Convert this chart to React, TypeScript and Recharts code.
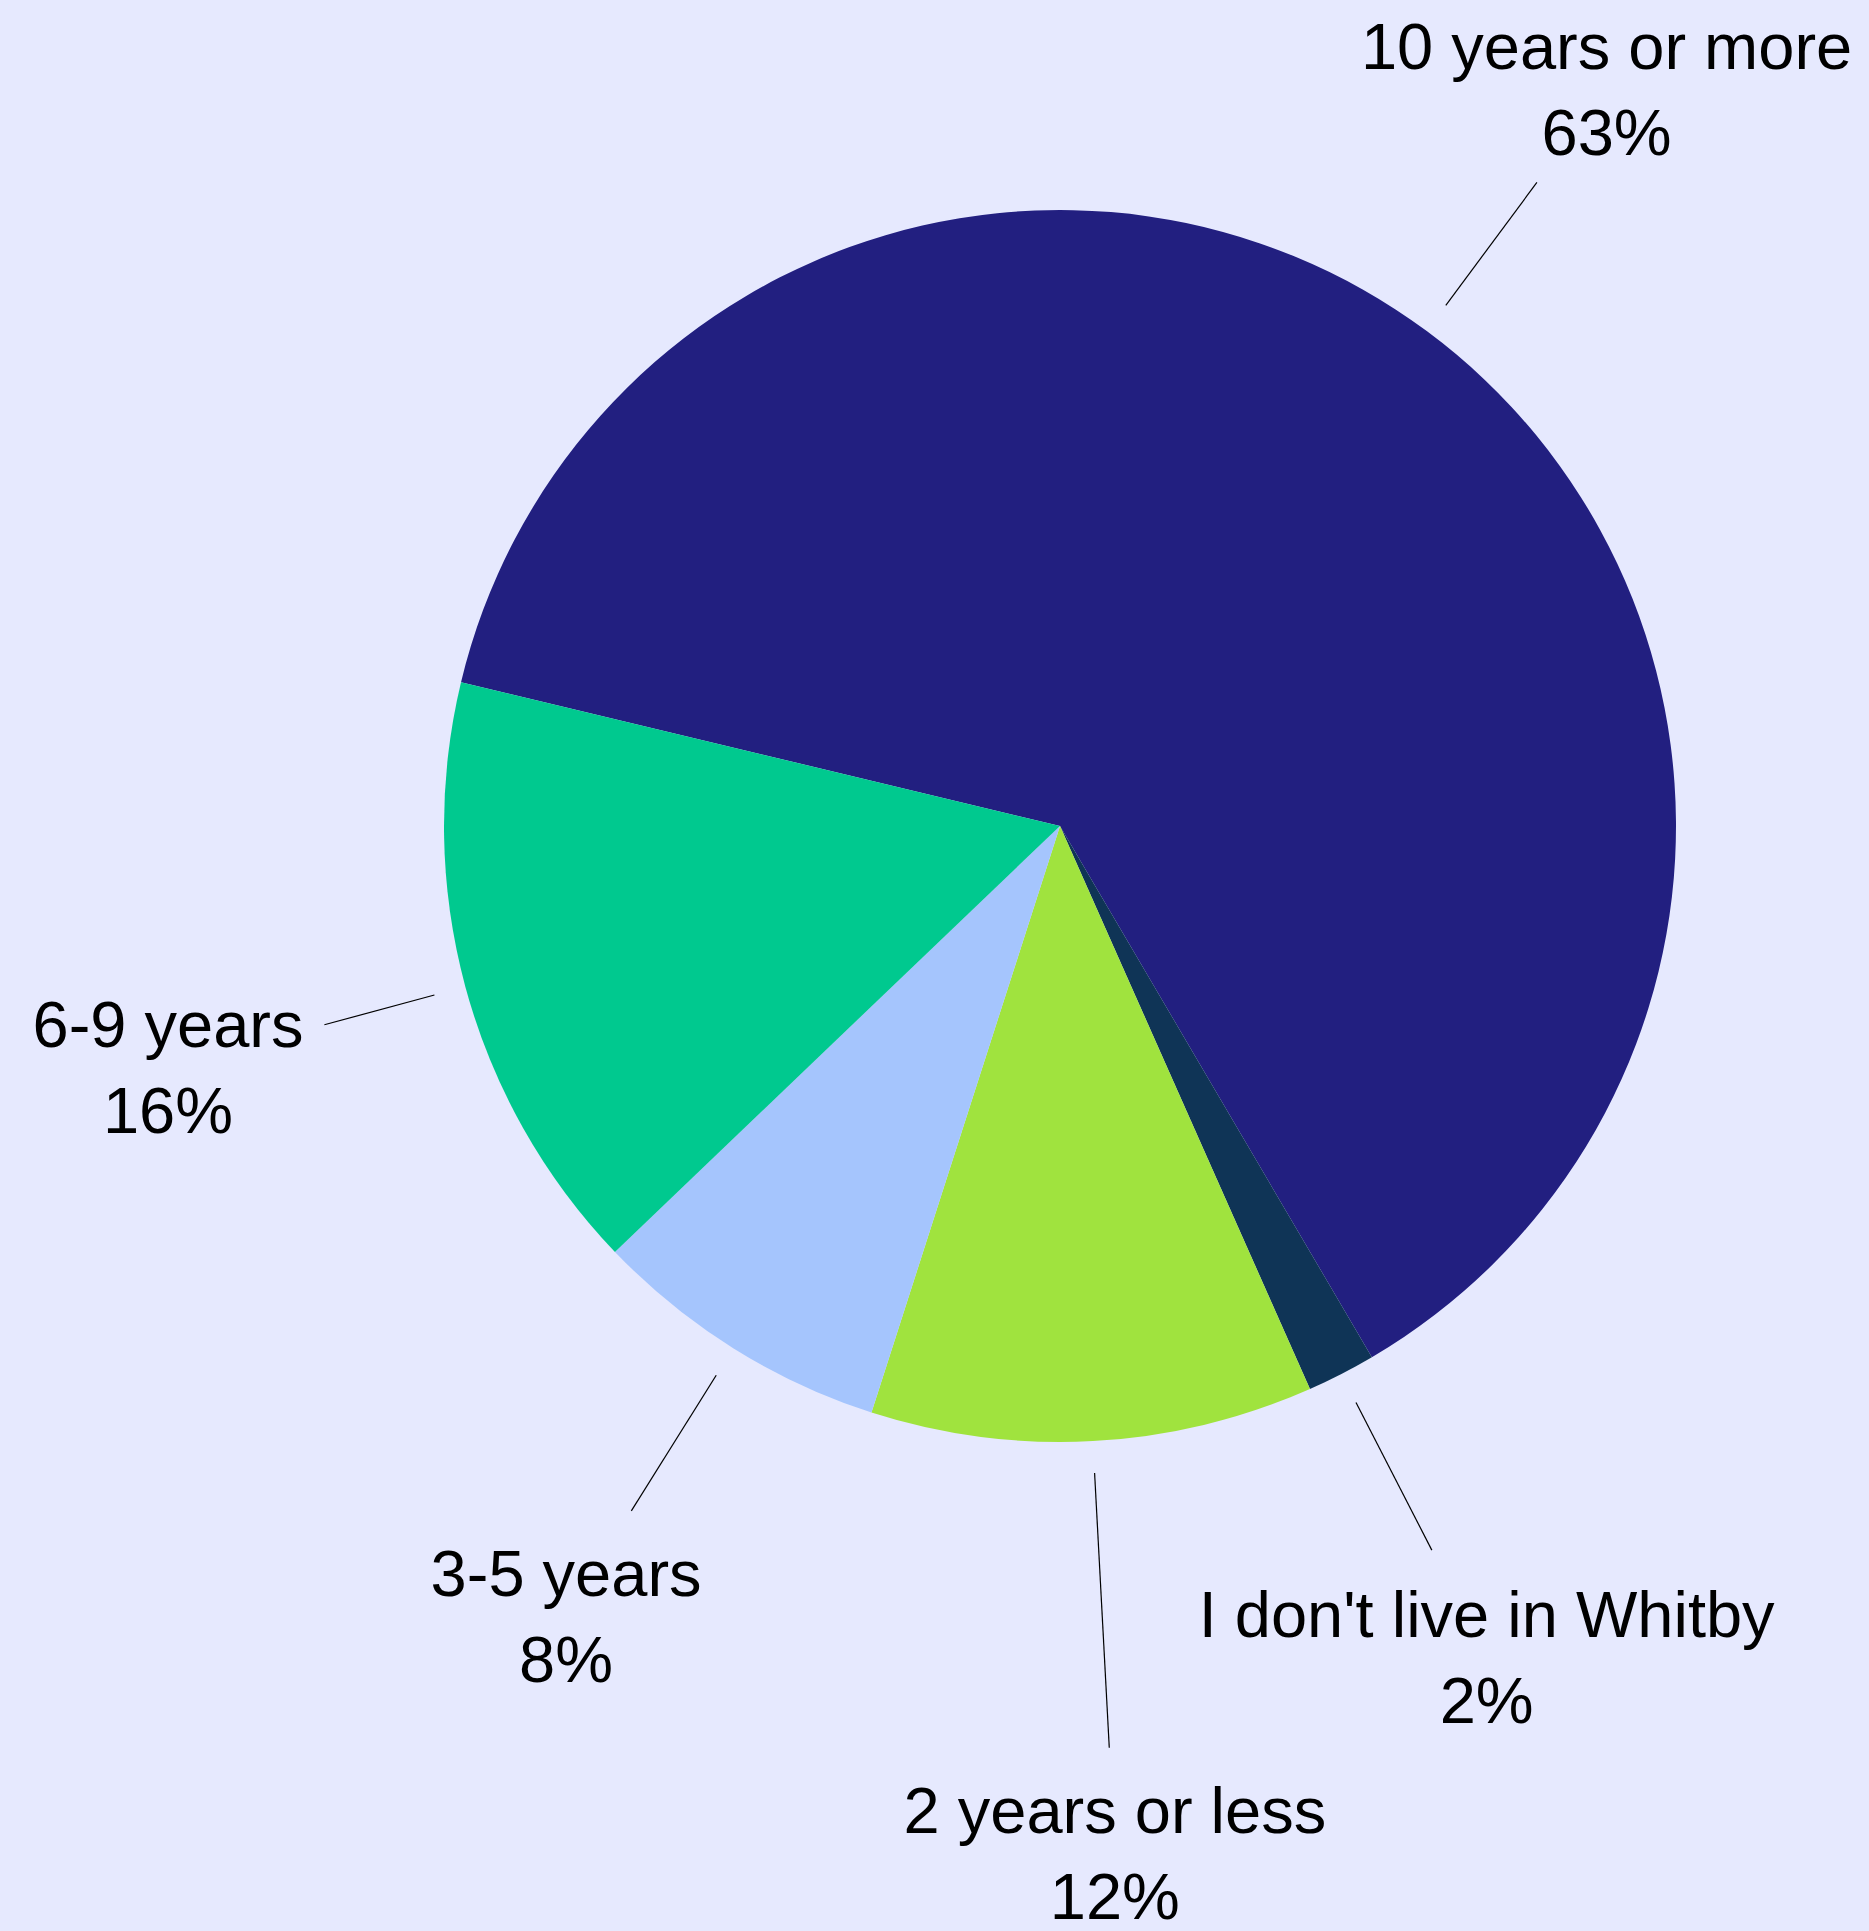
import React from "react";
import { PieChart, Pie, Cell } from "recharts";

const categories = [
  "10 years or more",
  "I don't live in Whitby",
  "2 years or less",
  "3-5 years",
  "6-9 years",
];
const values = [62.8, 1.8, 11.6, 7.9, 15.9];
const colors = ["#221F80", "#0F3456", "#A0E33E", "#A5C5FD", "#00C98F"];

// label layout (radial distances from centre)
const lineEndR = [801, 814, 923, 808, 762];
const textR = [918, 934, 1028, 931, 924];

const W = 1869;
const H = 1931;
const CX = 1055;
const CY = 821;
const R = 616;
const FONT = 65;
const LINE_H = 86;
const RADIAN = Math.PI / 180;

const data = categories.map((name, i) => ({ name, value: values[i] }));

const renderLabel = (props: any) => {
  const { cx, cy, midAngle, outerRadius, index, value } = props;
  const cos = Math.cos(-midAngle * RADIAN);
  const sin = Math.sin(-midAngle * RADIAN);
  const r0 = outerRadius + 32;
  const r1 = lineEndR[index];
  const rt = textR[index];
  const x0 = cx + r0 * cos;
  const y0 = cy + r0 * sin;
  const x1 = cx + r1 * cos;
  const y1 = cy + r1 * sin;
  const tx = cx + rt * cos;
  const ty = cy + rt * sin;
  const base = FONT * 0.36;
  return (
    <g>
      <line x1={x0} y1={y0} x2={x1} y2={y1} stroke="#000" strokeWidth={1.2} />
      <text
        x={tx}
        y={ty - LINE_H / 2 + base}
        textAnchor="middle"
        fontSize={FONT}
        fill="#000"
        fontFamily="'Liberation Sans', Arial, sans-serif"
      >
        {categories[index]}
      </text>
      <text
        x={tx}
        y={ty + LINE_H / 2 + base}
        textAnchor="middle"
        fontSize={FONT}
        fill="#000"
        fontFamily="'Liberation Sans', Arial, sans-serif"
      >
        {Math.round(value) + "%"}
      </text>
    </g>
  );
};

export default function App() {
  return (
    <div
      style={{
        position: "absolute",
        left: 0,
        top: 0,
        width: W,
        height: H,
        background: "#E6E9FE",
      }}
    >
      <PieChart width={W} height={H}>
        <Pie
          data={data}
          dataKey="value"
          nameKey="name"
          cx={CX}
          cy={CY}
          outerRadius={R}
          startAngle={166.5}
          endAngle={-193.5}
          stroke="none"
          label={renderLabel}
          labelLine={false}
          isAnimationActive={false}
        >
          {data.map((d, i) => (
            <Cell key={d.name} fill={colors[i]} />
          ))}
        </Pie>
      </PieChart>
    </div>
  );
}
